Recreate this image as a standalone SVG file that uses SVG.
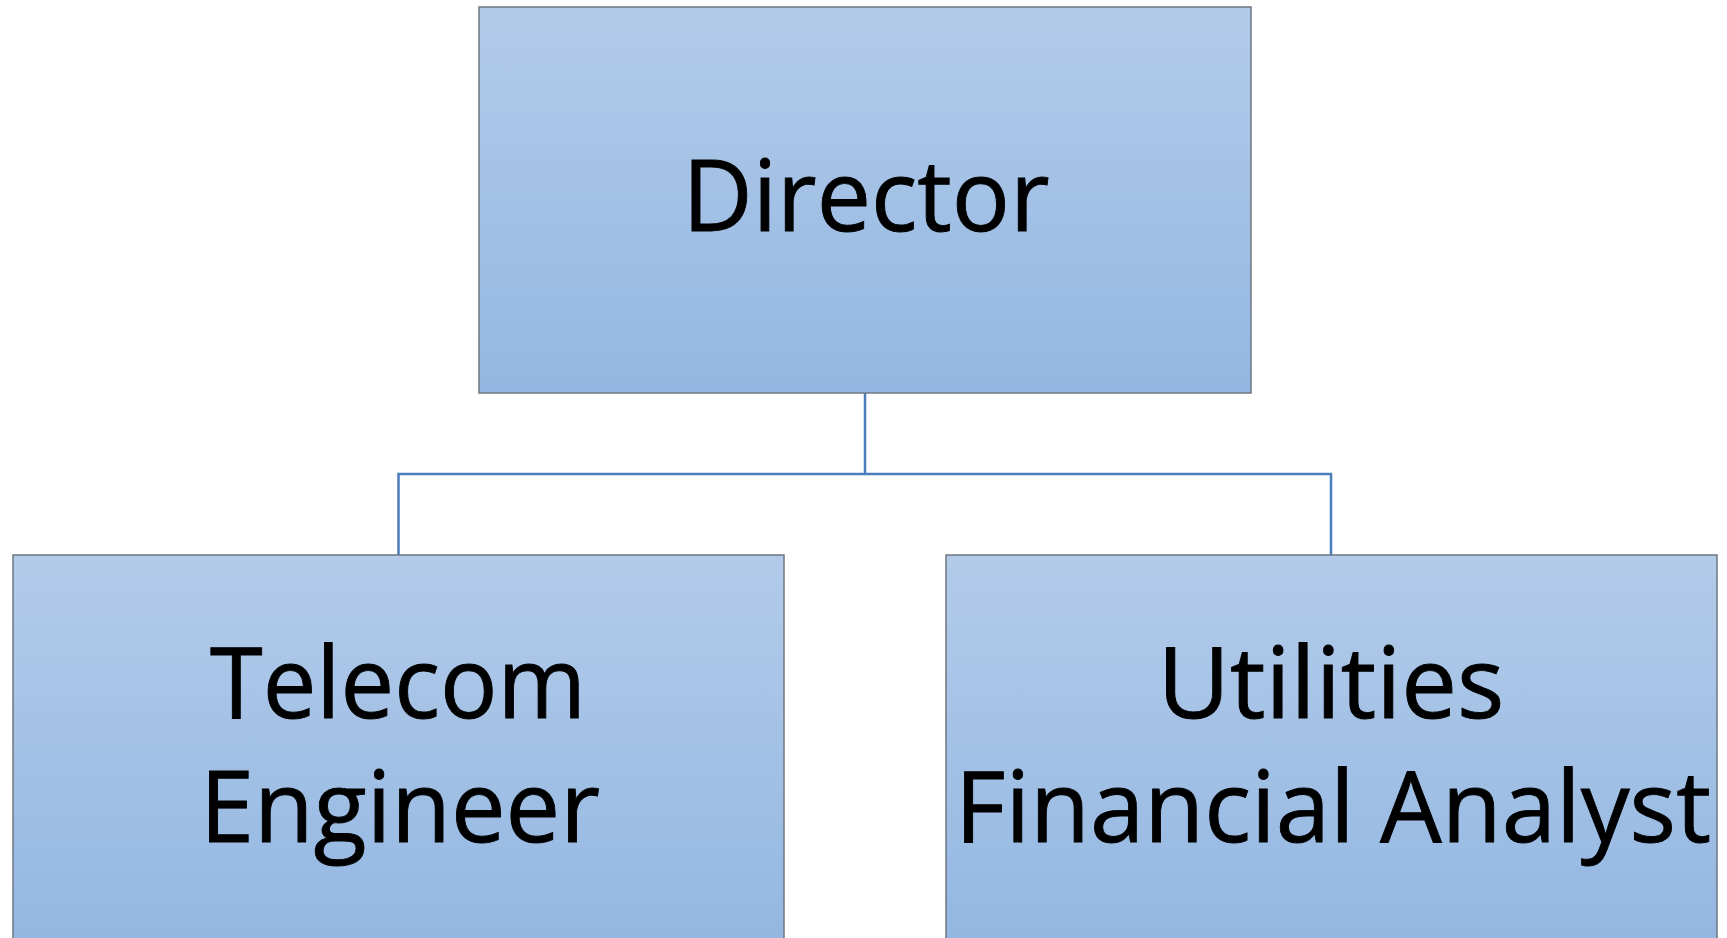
<svg xmlns="http://www.w3.org/2000/svg" width="1727" height="938" viewBox="0 0 1727 938">
<defs>
<linearGradient id="g" x1="0" y1="0" x2="0" y2="1">
<stop offset="0" stop-color="#b3cbe9"/>
<stop offset="1" stop-color="#93b7e2"/>
</linearGradient>
</defs>
<style>
.box{fill:url(#g);stroke:#6f7780;stroke-width:1.5}
.lbl{font-family:"Open Sans","Noto Sans","Liberation Sans",sans-serif;font-size:98px;fill:#000;stroke:#000;stroke-width:0.9;text-anchor:middle}
.con{fill:none;stroke:#4a7ebb;stroke-width:2.5}
</style>
<rect width="1727" height="938" fill="#ffffff"/>
<g id="connectors">
<path class="con" d="M865 393 V474 M398.5 555 V474 H1331 V555"/>
</g>
<g id="director">
<rect class="box" x="479" y="7" width="772" height="386"/>
<text class="lbl" x="866" y="231" textLength="367" lengthAdjust="spacingAndGlyphs">Director</text>
</g>
<g id="telecom">
<rect class="box" x="13" y="555" width="771" height="390"/>
<text class="lbl" x="398" y="718" textLength="376" lengthAdjust="spacingAndGlyphs">Telecom</text>
<text class="lbl" x="400" y="842" textLength="400" lengthAdjust="spacingAndGlyphs">Engineer</text>
</g>
<g id="utilities">
<rect class="box" x="946" y="555" width="771" height="390"/>
<text class="lbl" x="1331" y="718" textLength="347" lengthAdjust="spacingAndGlyphs">Utilities</text>
<text class="lbl" x="1333" y="842" textLength="756" lengthAdjust="spacingAndGlyphs">Financial Analyst</text>
</g>
</svg>
